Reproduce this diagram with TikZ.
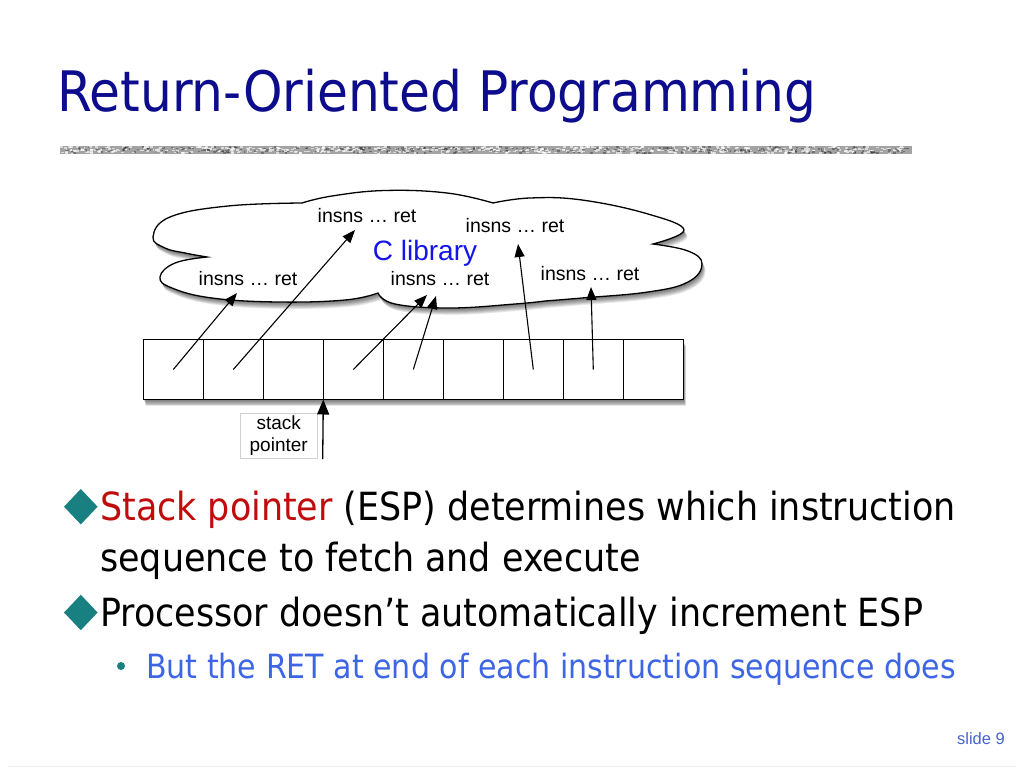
\documentclass[tikz,border=0pt]{standalone}
\usepackage{fontspec}
\setmainfont{Liberation Sans}
\newfontfamily\tahomaish{DejaVu Sans Condensed}
\usetikzlibrary{arrows.meta}
\definecolor{titlenavy}{RGB}{12,12,140}
\definecolor{bulletteal}{RGB}{24,128,128}
\definecolor{keyred}{RGB}{192,12,12}
\definecolor{subblue}{RGB}{62,102,228}
\definecolor{libblue}{RGB}{20,20,235}
\definecolor{slideblue}{RGB}{70,100,205}
\tikzset{
  cloudshape/.style={insert path={
    (207,257) -- plot[smooth,tension=0.7] coordinates {(207,257) (185,253) (165,248) (153,237) (170,217) (228,206) (302,203)}
    -- plot[smooth,tension=0.7] coordinates {(302,203) (332,196) (385,190.5) (447,193) (493,203)}
    -- plot[smooth,tension=0.7] coordinates {(493,203) (530,198) (582,200) (648,214) (684,230) (653,244)}
    -- plot[smooth,tension=0.7] coordinates {(653,244) (688,251) (702,264) (688,282) (648,292) (582,298) (545,301)}
    -- plot[smooth,tension=0.7] coordinates {(545,301) (515,304) (450,308) (395,304) (378,293)}
    -- plot[smooth,tension=0.7] coordinates {(378,293) (345,300) (278,302) (212,298) (172,288) (160,277) (175,263) (207,257)}
    -- cycle}},
  cell/.style={draw=black, line width=1.5pt, fill=white, minimum width=60pt, minimum height=60pt, inner sep=0pt, outer sep=0pt},
  libarrow/.style={draw=black, line width=1.1pt, -{Triangle[length=13pt,width=10pt]}},
  sparrow/.style={draw=black, line width=1.3pt, -{Triangle[length=15pt,width=12pt]}},
  insn/.style={anchor=base, inner sep=0pt, font=\fontsize{19.5}{22}\selectfont},
  bodytext/.style={anchor=base west, inner sep=0pt, font=\tahomaish\fontsize{38.8}{42}\selectfont},
}
\begin{document}
\begin{tikzpicture}[x=1pt,y=-1pt]
\useasboundingbox (0,0) rectangle (1024,768);
\fill[white] (0,0) rectangle (1024,768);

% title
\node[anchor=base west, inner sep=0pt, text=titlenavy, font=\tahomaish\fontsize{55.8}{60}\selectfont] (title) at (57,111) {Return-Oriented Programming};

% textured rule
\fill[gray!72] (60,146) rectangle (912,154);
\pgfmathsetseed{11}
\foreach \i in {1,...,520}{
  \pgfmathsetmacro\xx{60+849*rnd}
  \pgfmathsetmacro\yy{146+6.5*rnd}
  \fill[white,opacity=0.6] (\xx,\yy) rectangle ++(3,1.5);
}
\foreach \i in {1,...,320}{
  \pgfmathsetmacro\xx{60+849*rnd}
  \pgfmathsetmacro\yy{146+6.5*rnd}
  \fill[black,opacity=0.3] (\xx,\yy) rectangle ++(2.5,1.5);
}

% cloud shadow
\foreach \d in {1,...,7}{
  \fill[black,opacity=0.09,shift={(0.5*\d,0.9*\d+0.5)},cloudshape];
}
\path[fill=white, draw=black, line width=1.3pt, cloudshape];

% cloud labels
\node[insn] (i1) at (367,222) {insns … ret};
\node[insn] (i2) at (515,232) {insns … ret};
\node[anchor=base, inner sep=0pt, text=libblue, font=\fontsize{28}{30}\selectfont] (clib) at (425,260) {C library};
\node[insn] (i3) at (248,285) {insns … ret};
\node[insn] (i4) at (440,285) {insns … ret};
\node[insn] (i5) at (590,280) {insns … ret};

% arrow tips in the cloud
\coordinate (t1) at (237,293);
\coordinate (t2) at (355,230);
\coordinate (t3) at (427,295);
\coordinate (t4) at (436,296);
\coordinate (t5) at (518,244);
\coordinate (t6) at (591,287);

% stack row shadow
\foreach \d in {1,...,7}{
  \fill[black,opacity=0.085,shift={(0.4*\d,0.9*\d+0.5)}] (143.3,339.5) rectangle (683.3,399.5);
}
% stack cells
\foreach \k in {1,...,9}{
  \node[cell] (c\k) at ({143.3+60*\k-30},369.5) {};
}

% arrows
\draw[libarrow] (c1.center) -- (t1);
\draw[libarrow] (c2.center) -- (t2);
\draw[libarrow] (c4.center) -- (t3);
\draw[libarrow] (c5.center) -- (t4);
\draw[libarrow] (c7.center) -- (t5);
\draw[libarrow] (c8.center) -- (t6);

% stack pointer
\node[draw=gray!35, line width=0.8pt, minimum width=77pt, minimum height=45pt, inner sep=0pt, align=center, font=\fontsize{19}{21.5}\selectfont] (sp) at (278.7,435.8) {stack\\pointer};
\coordinate (spb) at (322.7,459);
\draw[sparrow] (spb) -- (c3.south east);

% bullets
\fill[bulletteal] (64,506.7) -- (80.8,489) -- (97.6,506.7) -- (80.8,524.4) -- cycle;
\node[bodytext] (b1) at (100,520) {\textcolor{keyred}{Stack pointer} (ESP) determines which instruction};
\node[bodytext] (b1b) at (100,571) {sequence to fetch and execute};
\fill[bulletteal] (64,612.5) -- (80.8,594.8) -- (97.6,612.5) -- (80.8,630.2) -- cycle;
\node[bodytext] (b2) at (100,626.5) {Processor doesn’t automatically increment ESP};
\fill[bulletteal] (121,666) circle (4);
\node[anchor=base west, inner sep=0pt, text=subblue, font=\tahomaish\fontsize{33.4}{36}\selectfont] (b3) at (146,678) {But the RET at end of each instruction sequence does};

% footer
\node[anchor=base east, inner sep=0pt, text=slideblue, font=\fontsize{16.5}{18}\selectfont] (slide) at (1005,744) {slide 9};
\draw[gray!15, line width=1.5pt] (8,766.5) -- (1016,766.5);
\end{tikzpicture}
\end{document}
